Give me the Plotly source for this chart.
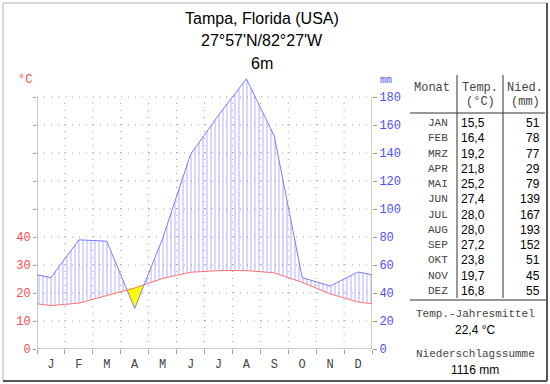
import numpy as np
import plotly.graph_objects as go

# ---------------- data ----------------
month_letters = ["J", "F", "M", "A", "M", "J", "J", "A", "S", "O", "N", "D"]
table_months = ["JAN", "FEB", "MRZ", "APR", "MAI", "JUN", "JUL", "AUG", "SEP", "OKT", "NOV", "DEZ"]
temperature = [15.5, 16.4, 19.2, 21.8, 25.2, 27.4, 28.0, 28.0, 27.2, 23.8, 19.7, 16.8]
precipitation = [51, 78, 77, 29, 79, 139, 167, 193, 152, 51, 45, 55]
temp_ticks = [0, 10, 20, 30, 40]
prec_ticks = [0, 20, 40, 60, 80, 100, 120, 140, 160, 180]
title_lines = ["Tampa, Florida (USA)", "27°57'N/82°27'W", "6m"]

W, H = 550, 384
def px(x):
    return x / W
def py(y):
    return 1 - y / H

RED = "#ff7070"
BLUE = "#7b7bff"
LBL_RED = "#ff4a4a"
LBL_BLUE = "#4f4fff"
GRID = "#9a9a9a"
AXIS = "#9a9a9a"
MONO = "Liberation Mono, Courier New, monospace"
SANS = "Liberation Sans, Arial, sans-serif"

# series on the precipitation scale (10 °C = 20 mm), wrapped to the plot edges
n = len(temperature)
xc = [i + 0.5 for i in range(n)]
edge_t = (temperature[0] + temperature[-1]) / 2
edge_p = (precipitation[0] + precipitation[-1]) / 2
xs = [0.0] + xc + [float(n)]
t2 = [2 * edge_t] + [2 * t for t in temperature] + [2 * edge_t]
pp = [edge_p] + list(precipitation) + [edge_p]

# densify with crossing points
dx, dt, dp = [xs[0]], [t2[0]], [pp[0]]
for i in range(len(xs) - 1):
    d0 = pp[i] - t2[i]
    d1 = pp[i + 1] - t2[i + 1]
    if d0 * d1 < 0:
        f = d0 / (d0 - d1)
        xx = xs[i] + f * (xs[i + 1] - xs[i])
        vv = t2[i] + f * (t2[i + 1] - t2[i])
        dx.append(xx); dt.append(vv); dp.append(vv)
    dx.append(xs[i + 1]); dt.append(t2[i + 1]); dp.append(pp[i + 1])
dt = np.array(dt); dp = np.array(dp)
upper = np.maximum(dp, dt)
lower = np.minimum(dp, dt)

fig = go.Figure()
fig.add_trace(go.Scatter(x=dx, y=dt, mode="lines", line=dict(width=0), hoverinfo="skip", showlegend=False))
fig.add_trace(go.Scatter(x=dx, y=upper, mode="lines", line=dict(width=0), fill="tonexty",
                         fillcolor="rgba(0,0,0,0)",
                         fillpattern=dict(shape="|", size=4, solidity=0.3, fgcolor="#7f7fff"),
                         hoverinfo="skip", showlegend=False))
fig.add_trace(go.Scatter(x=dx, y=lower, mode="lines", line=dict(width=0), hoverinfo="skip", showlegend=False))
fig.add_trace(go.Scatter(x=dx, y=dt, mode="lines", line=dict(width=0), fill="tonexty",
                         fillcolor="#ffff00", hoverinfo="skip", showlegend=False))
fig.add_trace(go.Scatter(x=xs, y=t2, mode="lines", line=dict(color=RED, width=1), hoverinfo="skip", showlegend=False))
fig.add_trace(go.Scatter(x=xs, y=pp, mode="lines", line=dict(color=BLUE, width=1), yaxis="y2",
                         hoverinfo="skip", showlegend=False))

YMAX = 200
fig.update_layout(
    width=W, height=H, autosize=False, margin=dict(l=0, r=0, t=0, b=0, pad=0, autoexpand=False),
    paper_bgcolor="white", plot_bgcolor="rgba(0,0,0,0)",
    showlegend=False,
    xaxis=dict(domain=[px(37), px(372)], range=[0, n], showgrid=False, zeroline=False, showline=False,
               automargin=False,
               tickmode="array", tickvals=xc, ticktext=month_letters,
               ticks="outside", ticklen=4, tickcolor="rgba(0,0,0,0)",
               tickfont=dict(family=MONO, size=12, color="#444444"),
               minor=dict(tickmode="array", tickvals=list(range(n + 1)), ticks="outside", ticklen=4,
                          tickcolor=AXIS, showgrid=False)),
    yaxis=dict(domain=[py(349), py(69)], range=[0, YMAX], showgrid=False, zeroline=False, showline=False,
               automargin=False,
               tickmode="array", tickvals=prec_ticks,
               ticktext=[str(t) for t in temp_ticks] + [""] * (len(prec_ticks) - len(temp_ticks)),
               ticks="outside", ticklen=3, tickcolor=AXIS,
               tickfont=dict(family=MONO, size=12, color=LBL_RED)),
    yaxis2=dict(overlaying="y", side="right", range=[0, YMAX], showgrid=False, zeroline=False, showline=False,
                automargin=False,
                tickmode="array", tickvals=prec_ticks, ticktext=[str(v) for v in prec_ticks],
                ticks="outside", ticklen=4, tickcolor=AXIS,
                tickfont=dict(family=MONO, size=12, color=LBL_BLUE)),
)

shapes = []
top = prec_ticks[-1]
for v in prec_ticks[1:]:
    shapes.append(dict(type="line", xref="x", yref="y", x0=0, x1=n, y0=v, y1=v,
                       line=dict(color=GRID, width=1, dash="1px,6px"), layer="below"))
for k in range(1, n):
    shapes.append(dict(type="line", xref="x", yref="y", x0=k, x1=k, y0=0, y1=top,
                       line=dict(color=GRID, width=1, dash="1px,6px"), layer="below"))
# axis lines
shapes.append(dict(type="line", xref="x", yref="y", x0=0, x1=0, y0=0, y1=top, line=dict(color=AXIS, width=1)))
shapes.append(dict(type="line", xref="x", yref="y", x0=n, x1=n, y0=0, y1=top, line=dict(color=AXIS, width=1)))
shapes.append(dict(type="line", xref="x", yref="y", x0=0, x1=n, y0=0, y1=0, line=dict(color=AXIS, width=1)))

# table lines
def pline(x0, y0, x1, y1, color="#333333", width=1):
    shapes.append(dict(type="line", xref="paper", yref="paper", x0=px(x0), y0=py(y0), x1=px(x1), y1=py(y1),
                       line=dict(color=color, width=width)))
pline(410, 113, 545, 113)
pline(410, 300, 547, 300)
pline(457, 75, 457, 298)
pline(503, 75, 503, 298)
# border
pline(3, 3, 547, 3, "#b0b0b0", 1)
pline(3, 3, 3, 381, "#b0b0b0", 1)
pline(547, 3, 547, 381, "#555555", 2)
pline(3, 381, 547, 381, "#555555", 2)
fig.update_layout(shapes=shapes)

ann = []
def text(x, y, s, family=SANS, size=12, color="black", xanchor="center"):
    ann.append(dict(xref="paper", yref="paper", x=px(x), y=py(y), text=s, showarrow=False,
                    xanchor=xanchor, yanchor="middle", font=dict(family=family, size=size, color=color)))

for i, s in enumerate(title_lines):
    text(262, 18 + i * 22.5, s, SANS, 16, "black")
text(25, 80, "°C", MONO, 12, LBL_RED)
text(386, 80, "mm", MONO, 10, LBL_BLUE)

GRAYT = "#444444"
text(432, 88, "Monat", MONO, 12, GRAYT)
text(480, 88, "Temp.", MONO, 12, GRAYT)
text(480, 102, "(°C)", MONO, 12, GRAYT)
text(525, 88, "Nied.", MONO, 12, GRAYT)
text(525, 102, "(mm)", MONO, 12, GRAYT)
row0, dy = 123, (291 - 123) / 11
for i in range(n):
    y = row0 + i * dy
    text(438, y, table_months[i], MONO, 11, GRAYT)
    text(487, y, f"{temperature[i]:.1f}".replace(".", ","), SANS, 12, "black", "right")
    text(542, y, str(precipitation[i]), SANS, 12, "black", "right")

mean_t = sum(temperature) / n
sum_p = sum(precipitation)
text(475, 314, "Temp.-Jahresmittel", MONO, 11, GRAYT)
text(475, 330, f"{mean_t:.1f} °C".replace(".", ","), SANS, 12, "black")
text(475, 354, "Niederschlagssumme", MONO, 11, GRAYT)
text(475, 370, f"{sum_p} mm", SANS, 12, "black")
fig.update_layout(annotations=ann)

post = ("document.documentElement.style.margin='0';document.documentElement.style.padding='0';"
        "document.documentElement.style.overflow='hidden';"
        "document.body.style.margin='0';document.body.style.padding='0';"
        "document.body.style.overflow='hidden';")
fig.write_html("out.html", config={"displayModeBar": False}, post_script=post)
